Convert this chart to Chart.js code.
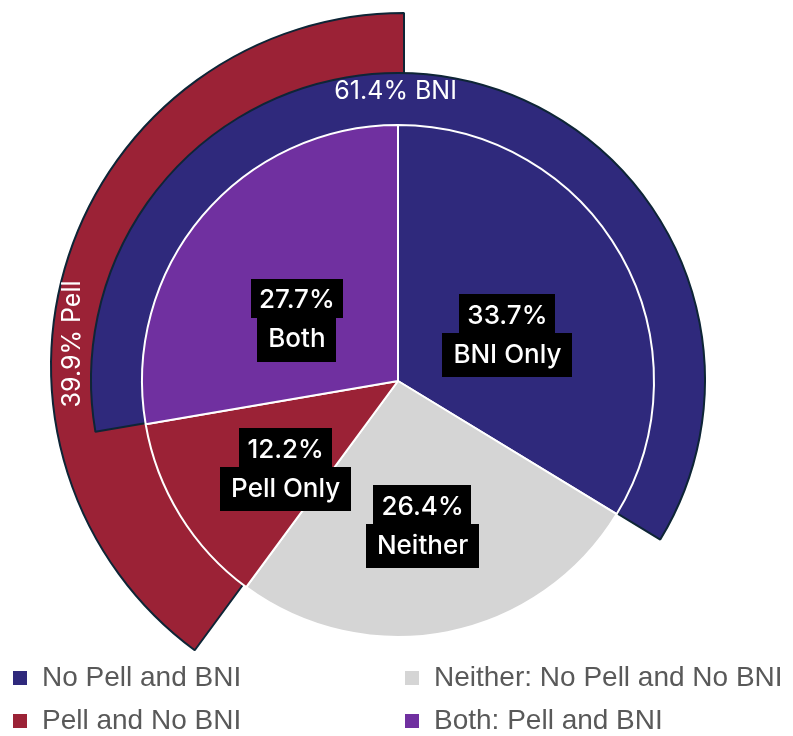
<!DOCTYPE html>
<html>
<head>
<meta charset="utf-8">
<script src="https://cdn.jsdelivr.net/npm/chart.js@4.4.1/dist/chart.umd.min.js"></script>
<style>
  html, body { margin: 0; padding: 0; background: #ffffff; }
  #wrap { position: relative; width: 793px; height: 736px; overflow: hidden; background: #ffffff; }
  #wrap canvas { position: absolute; }
</style>
</head>
<body>
<div id="wrap">
  <canvas id="pellRing" width="793" height="736" style="left:0;top:0"></canvas>
  <canvas id="bniRing" width="793" height="736" style="left:0;top:0"></canvas>
  <canvas id="pie" width="793" height="736" style="left:0;top:0"></canvas>
  <canvas id="legendA" width="380" height="200" style="left:-3px;top:649px"></canvas>
  <canvas id="legendB" width="404" height="200" style="left:389px;top:649px"></canvas>
</div>
<script>
// ---------------- data ----------------
const categories = ['No Pell and BNI', 'Neither: No Pell and No BNI', 'Pell and No BNI', 'Both: Pell and BNI'];
const sliceNames = ['BNI Only', 'Neither', 'Pell Only', 'Both'];
const shares = [33.7, 26.4, 12.2, 27.7];
const ringNames = ['BNI', 'Pell'];
const bniShare = [61.4];
const pellShare = [39.9];

// ---------------- styles ----------------
const sliceColors = ['#2F297C', '#D5D5D5', '#9B2236', '#7030A0'];
const bniColor = '#2F297C';
const pellColor = '#9B2236';
const ringBorder = '#0E2536';
const labelFont = '500 26px Inter';
const ringFont = '25px Inter';
const legendFont = { family: "'Liberation Sans', Arial, sans-serif", size: 28 };

// label placement inside each slice: fraction along the slice angle, fraction of radius
const labelAngleFrac = [0.548, 0.515, 0.371, 0.419];
const labelRadiusFrac = [0.466, 0.568, 0.552, 0.466];

const total = shares.reduce((a, b) => a + b, 0);
const pellStartDeg = (shares[0] + shares[1]) / total * 360;
const bniStartDeg = (shares[0] + shares[1] + shares[2]) / total * 360;
const pct = v => v.toFixed(1) + '%';

const baseOptions = {
  responsive: false,
  animation: false,
  devicePixelRatio: 1,
  events: [],
  plugins: { legend: { display: false }, tooltip: { enabled: false } }
};

// plugin: black boxed labels inside pie slices
const sliceLabels = {
  id: 'sliceLabels',
  afterDatasetsDraw(chart) {
    const ctx = chart.ctx;
    const meta = chart.getDatasetMeta(0);
    ctx.save();
    ctx.font = labelFont;
    ctx.textAlign = 'center';
    ctx.textBaseline = 'middle';
    meta.data.forEach((arc, i) => {
      const p = arc.getProps(['x', 'y', 'startAngle', 'endAngle', 'outerRadius'], true);
      const a = p.startAngle + labelAngleFrac[i] * (p.endAngle - p.startAngle);
      const r = p.outerRadius * labelRadiusFrac[i];
      const cx = p.x + r * Math.cos(a);
      const by = p.y + r * Math.sin(a);
      const lines = [pct(shares[i]), sliceNames[i]];
      const pads = [8, 11];
      const tops = [by - 39, by];
      const heights = [39, 44];
      const textY = [by - 17, by + 22];
      lines.forEach((t, k) => {
        const w = ctx.measureText(t).width + 2 * pads[k];
        ctx.fillStyle = '#000000';
        ctx.fillRect(Math.round(cx - w / 2), Math.round(tops[k]), Math.round(w), heights[k]);
        ctx.fillStyle = '#ffffff';
        ctx.fillText(t, cx, textY[k]);
      });
    });
    ctx.restore();
  }
};

// plugin: white text label on an outer ring
function ringLabel(text, angleFrac, radiusFrac, rotateDeg) {
  return {
    id: 'ringLabel',
    afterDatasetsDraw(chart) {
      const ctx = chart.ctx;
      const arc = chart.getDatasetMeta(0).data[0];
      const p = arc.getProps(['x', 'y', 'startAngle', 'endAngle', 'outerRadius'], true);
      const a = p.startAngle + angleFrac * (p.endAngle - p.startAngle);
      const r = p.outerRadius * radiusFrac;
      ctx.save();
      ctx.translate(p.x + r * Math.cos(a), p.y + r * Math.sin(a));
      ctx.rotate(rotateDeg * Math.PI / 180);
      ctx.font = ringFont;
      ctx.textAlign = 'center';
      ctx.textBaseline = 'middle';
      ctx.fillStyle = '#ffffff';
      ctx.fillText(text, 0, 0);
      ctx.restore();
    }
  };
}

// outer Pell ring (bottom layer)
new Chart(document.getElementById('pellRing'), {
  type: 'pie',
  data: {
    labels: [ringNames[1], ''],
    datasets: [{
      data: [pellShare[0], total - pellShare[0]],
      backgroundColor: [pellColor, 'rgba(0,0,0,0)'],
      borderColor: [ringBorder, 'rgba(0,0,0,0)'],
      borderWidth: [2, 0],
      rotation: pellStartDeg
    }]
  },
  options: Object.assign({}, baseOptions, {
    radius: 353,
    layout: { padding: { left: 15, right: 0, top: 0, bottom: 4 } }
  }),
  plugins: [ringLabel(pct(pellShare[0]) + ' ' + ringNames[1], 0.40, 0.94, -90)]
});

// BNI ring (middle layer)
new Chart(document.getElementById('bniRing'), {
  type: 'pie',
  data: {
    labels: [ringNames[0], ''],
    datasets: [{
      data: [bniShare[0], total - bniShare[0]],
      backgroundColor: [bniColor, 'rgba(0,0,0,0)'],
      borderColor: [ringBorder, 'rgba(0,0,0,0)'],
      borderWidth: [2, 0],
      rotation: bniStartDeg
    }]
  },
  options: Object.assign({}, baseOptions, {
    radius: 307,
    layout: { padding: { left: 3, right: 0, top: 24, bottom: 0 } }
  }),
  plugins: [ringLabel(pct(bniShare[0]) + ' ' + ringNames[0], 0.449, 0.94, 0)]
});

// inner pie (top layer)
new Chart(document.getElementById('pie'), {
  type: 'pie',
  data: {
    labels: categories,
    datasets: [{
      data: shares,
      backgroundColor: sliceColors,
      borderColor: '#ffffff',
      borderWidth: 2
    }]
  },
  options: Object.assign({}, baseOptions, {
    radius: 256,
    layout: { padding: { left: 3, right: 0, top: 26, bottom: 0 } }
  }),
  plugins: [sliceLabels]
});

// legend columns
function legendChart(id, keep) {
  new Chart(document.getElementById(id), {
    type: 'pie',
    data: {
      labels: categories,
      datasets: [{ data: shares, backgroundColor: sliceColors, borderColor: '#ffffff', borderWidth: 2 }]
    },
    options: Object.assign({}, baseOptions, {
      radius: 0,
      plugins: {
        tooltip: { enabled: false },
        legend: {
          display: true,
          position: 'top',
          align: 'start',
          labels: {
            filter: item => keep.includes(item.index),
            font: legendFont,
            color: '#595959',
            boxWidth: 16,
            boxHeight: 16,
            padding: 15
          }
        }
      }
    })
  });
}
legendChart('legendA', [0, 2]);
legendChart('legendB', [1, 3]);
</script>
</body>
</html>
